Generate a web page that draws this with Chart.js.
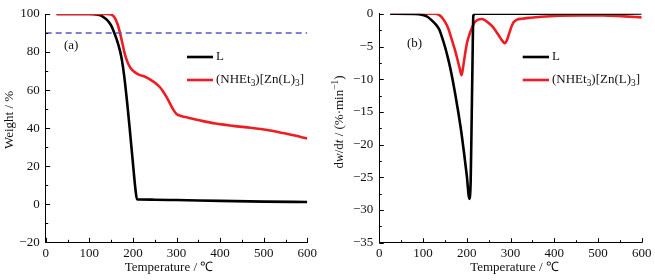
<!DOCTYPE html>
<html>
<head>
<meta charset="utf-8">
<script src="https://cdn.jsdelivr.net/npm/chart.js@4"></script>
<style>
  html, body { margin: 0; padding: 0; background: #fff; }
  #wrap { position: relative; width: 655px; height: 280px; }
  .pane { position: absolute; top: 0; height: 280px; }
</style>
</head>
<body>
<div id="wrap">
  <div class="pane" style="left:0;width:325px"><canvas id="ch_tg"></canvas></div>
  <div class="pane" style="left:325px;width:330px"><canvas id="ch_dtg"></canvas></div>
</div>
<script>
/* (a) TG curves: weight % vs temperature */
const tgTempL = [25, 60, 100, 120, 130, 140, 150, 157, 163, 170, 175, 180, 187, 193, 199.5, 206, 209.5, 215, 250, 300, 400, 500, 600];
const tgWtL   = [100, 100, 100, 99.6, 98.8, 97, 94, 90.3, 86.5, 81, 75.5, 67.5, 53, 39, 23, 7.5, 2.6, 2.5, 2.4, 2.2, 1.8, 1.4, 1.2];

const tgTempZn = [25, 100, 140, 150, 155, 160, 165, 170, 176, 182, 188, 195, 205, 215, 228, 240, 250, 262, 270, 278, 285, 293, 300, 312, 325, 355, 390, 430, 470, 505, 545, 585, 600];
const tgWtZn   = [100, 100, 100, 99.7, 99, 97.3, 94.5, 90.5, 84.5, 78.5, 74.5, 71.5, 69.3, 68, 67, 65.5, 64, 61.5, 59, 56, 53, 49.6, 47.4, 46.3, 45.6, 44, 42.4, 41.2, 40.2, 39.2, 37.4, 35.4, 34.5];

const refTemp = [0, 600];
const refWt   = [90, 90];

/* (b) DTG curves: dw/dt vs temperature */
const dtgTempL = [25, 90, 100, 110, 120, 130, 137, 145, 150, 156, 162, 168, 174, 181, 188, 194, 200, 206, 209, 211, 213, 215, 220, 300, 400, 600];
const dtgValL  = [0, -0.05, -0.2, -0.45, -1.0, -1.7, -2.4, -3.9, -5.0, -6.5, -8.2, -10.2, -12.4, -15.2, -18.3, -21.4, -24.7, -28.3, -25.4, -17, -8, -0.3, 0, 0, 0.05, 0.05];

const dtgTempZn = [25, 128, 140, 150, 158, 166, 172, 178, 184, 188, 192, 196, 201, 206, 211, 218, 226, 234, 242, 250, 258, 266, 274, 281, 287, 292, 297, 302, 307, 315, 326, 345, 370, 410, 460, 510, 560, 600];
const dtgValZn  = [0, 0, -0.35, -1.2, -2.3, -4.0, -5.3, -6.8, -8.4, -9.4, -8.0, -6.2, -4.3, -3.2, -2.3, -1.3, -0.9, -0.8, -1.0, -1.4, -1.9, -2.6, -3.4, -4.1, -4.5, -4.0, -3.0, -2.0, -1.3, -0.9, -0.75, -0.6, -0.45, -0.3, -0.25, -0.25, -0.4, -0.55];

const xTicks = [0, 100, 200, 300, 400, 500, 600];
const tgTicks = [-20, 0, 20, 40, 60, 80, 100];
const dtgTicks = [-35, -30, -25, -20, -15, -10, -5, 0];

const BLACK = '#000000';
const RED = '#ee1d23';
const DASH = '#5555c8';
const FONT = "'Liberation Serif', 'Times New Roman', serif";

function pts(xs, ys) { return xs.map((x, i) => ({ x, y: ys[i] })); }
function minus(v) { return v < 0 ? '\u2212' + Math.abs(v) : String(v); }

function segFont(s, size) {
  const sz = (s.sub || s.sup) ? size * 0.72 : size;
  return (s.it ? 'italic ' : '') + sz + 'px ' + FONT;
}
function richText(ctx, segs, x, y, size, align) {
  if (typeof segs === 'string') segs = [{ t: segs }];
  let w = 0;
  segs.forEach(s => { ctx.font = segFont(s, size); w += ctx.measureText(s.t).width; });
  let cx = align === 'center' ? x - w / 2 : x;
  ctx.textBaseline = 'middle';
  ctx.textAlign = 'left';
  segs.forEach(s => {
    ctx.font = segFont(s, size);
    const dy = s.sub ? size * 0.3 : s.sup ? -size * 0.35 : 0;
    ctx.fillText(s.t, cx, y + dy);
    cx += ctx.measureText(s.t).width;
  });
}

// inward tick marks, axis titles, panel tag and legend
const decor = {
  id: 'decor',
  afterDatasetsDraw(chart, args, o) {
    const { ctx, chartArea: a, scales: { x, y } } = chart;
    ctx.save();
    ctx.strokeStyle = '#000';
    ctx.lineWidth = 1;
    ctx.beginPath();
    for (let v = x.min; v <= x.max + 1e-6; v += o.xMinor) {
      const px = Math.round(x.getPixelForValue(v)) + 0.5;
      const len = Math.abs(v % o.xMajor) < 1e-6 ? 4.5 : 2.5;
      ctx.moveTo(px, a.bottom); ctx.lineTo(px, a.bottom - len);
    }
    for (let v = y.min; v <= y.max + 1e-6; v += o.yMinor) {
      const py = Math.round(y.getPixelForValue(v)) + 0.5;
      const len = Math.abs(v % o.yMajor) < 1e-6 ? 4.5 : 2.5;
      ctx.moveTo(a.left, py); ctx.lineTo(a.left + len, py);
    }
    ctx.stroke();

    ctx.fillStyle = '#111';
    richText(ctx, o.xTitle.segs, o.xTitle.x, o.xTitle.y, 13, 'center');
    ctx.save();
    ctx.translate(o.yTitle.x, o.yTitle.y);
    ctx.rotate(-Math.PI / 2);
    richText(ctx, o.yTitle.segs, 0, 0, 13, 'center');
    ctx.restore();

    richText(ctx, o.tag.text, o.tag.x, o.tag.y, 13, 'left');

    const lg = o.legend;
    lg.items.forEach((it, i) => {
      const ds = chart.data.datasets[it.ds];
      ctx.strokeStyle = ds.borderColor;
      ctx.lineWidth = 2.6;
      ctx.beginPath();
      ctx.moveTo(lg.x1, lg.ys[i]); ctx.lineTo(lg.x2, lg.ys[i]);
      ctx.stroke();
      ctx.fillStyle = '#111';
      richText(ctx, it.segs, lg.tx, lg.ys[i], 13, 'left');
    });
    ctx.restore();
  }
};

const znLabel = [{ t: '(NHEt' }, { t: '3', sub: true }, { t: ')[Zn(L)' }, { t: '3', sub: true }, { t: ']' }];
const tempTitle = 'Temperature / \u2103';

function axisX(width) {
  return {
    type: 'linear', min: 0, max: 600,
    afterBuildTicks: s => { s.ticks = xTicks.map(v => ({ value: v })); },
    afterFit: s => { s.height = width; },
    grid: { display: false, drawTicks: false },
    border: { display: true, color: '#000', width: 1 },
    ticks: { padding: 3, color: '#111', font: { family: FONT, size: 13 }, maxRotation: 0, autoSkip: false }
  };
}
function axisY(min, max, tickVals, width) {
  return {
    type: 'linear', min, max,
    afterBuildTicks: s => { s.ticks = tickVals.map(v => ({ value: v })); },
    afterFit: s => { s.width = width; },
    grid: { display: false, drawTicks: false },
    border: { display: true, color: '#000', width: 1 },
    ticks: { padding: 6, color: '#111', font: { family: FONT, size: 13 }, autoSkip: false, callback: v => minus(v) }
  };
}
function line(label, data, color, extra) {
  return Object.assign({
    label, data, borderColor: color, backgroundColor: color,
    borderWidth: 2.6, pointRadius: 0, fill: false,
    cubicInterpolationMode: 'monotone'
  }, extra || {});
}

new Chart(document.getElementById('ch_tg'), {
  type: 'line',
  data: {
    datasets: [
      line('ref', pts(refTemp, refWt), DASH, { borderWidth: 1.4, borderDash: [6, 4], cubicInterpolationMode: 'default' }),
      line('(NHEt3)[Zn(L)3]', pts(tgTempZn, tgWtZn), RED),
      line('L', pts(tgTempL, tgWtL), BLACK)
    ]
  },
  options: {
    responsive: true,
    maintainAspectRatio: false,
    animation: false,
    layout: { padding: { top: 14, right: 17.7, left: 0, bottom: 0 } },
    plugins: {
      legend: { display: false },
      tooltip: { enabled: false },
      decor: {
        xMajor: 100, xMinor: 50, yMajor: 20, yMinor: 10,
        xTitle: { segs: tempTitle, x: 169, y: 268 },
        yTitle: { segs: 'Weight / %', x: 10, y: 120 },
        tag: { text: '(a)', x: 64, y: 46 },
        legend: {
          x1: 187, x2: 213, tx: 216, ys: [57, 80],
          items: [{ ds: 2, segs: 'L' }, { ds: 1, segs: znLabel }]
        }
      }
    },
    scales: { x: axisX(37.7), y: axisY(-20, 100, tgTicks, 45.7) }
  },
  plugins: [decor]
});

new Chart(document.getElementById('ch_dtg'), {
  type: 'line',
  data: {
    datasets: [
      line('L', pts(dtgTempL, dtgValL), BLACK),
      line('(NHEt3)[Zn(L)3]', pts(dtgTempZn, dtgValZn), RED)
    ]
  },
  options: {
    responsive: true,
    maintainAspectRatio: false,
    animation: false,
    layout: { padding: { top: 11, right: 13.3, left: 0, bottom: 0 } },
    plugins: {
      legend: { display: false },
      tooltip: { enabled: false },
      decor: {
        xMajor: 100, xMinor: 50, yMajor: 5, yMinor: 2.5,
        xTitle: { segs: tempTitle, x: 189.5, y: 268 },
        yTitle: {
          segs: [{ t: 'd' }, { t: 'w', it: true }, { t: '/d' }, { t: 't', it: true }, { t: ' / (%\u00b7min' }, { t: '\u22121', sup: true }, { t: ')' }],
          x: 15, y: 122
        },
        tag: { text: '(b)', x: 82, y: 44 },
        legend: {
          x1: 197.7, x2: 224, tx: 227, ys: [57, 80],
          items: [{ ds: 0, segs: 'L' }, { ds: 1, segs: znLabel }]
        }
      }
    },
    scales: { x: axisX(37.3), y: axisY(-35, 0, dtgTicks, 54.3) }
  },
  plugins: [decor]
});
</script>
</body>
</html>
